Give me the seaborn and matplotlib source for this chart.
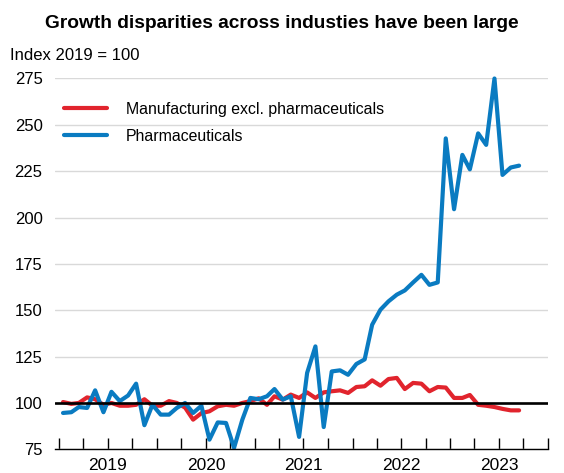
import matplotlib
matplotlib.use("Agg")
import matplotlib.pyplot as plt
import matplotlib.dates as mdates
import seaborn as sns
import pandas as pd

sns.set_theme(style="white")
plt.rcParams['font.family'] = ['Liberation Sans', 'DejaVu Sans']
plt.rcParams['text.color'] = 'black'
plt.rcParams['xtick.color'] = 'black'
plt.rcParams['ytick.color'] = 'black'

# monthly index values, Jan 2019 - Sep 2023
months = pd.date_range("2019-01-01", periods=57, freq="MS") + pd.Timedelta(days=14)
manufacturing = [100.5, 99.5, 100, 103, 102, 99, 100, 98.5, 98.5, 99, 102, 98.5,
                 98.5, 101, 100, 97.5, 91, 94.5, 95.5, 98.2, 99, 98.5, 100, 101,
                 102.5, 99, 103.6, 101.8, 104.5, 102.7, 105.7, 102.7, 105.7, 106.3, 106.8, 105.4,
                 108.6, 109, 112.2, 109.3, 112.9, 113.5, 107.5, 110.8, 110.4, 106.3, 108.6, 108.3,
                 102.7, 102.7, 104.3, 99, 98.5, 97.8, 96.8, 96, 96]
pharma = [94.6, 95, 97.8, 97.3, 106.8, 95, 106, 101, 104, 110.4, 88, 99,
          93.7, 93.7, 97.3, 100, 94.6, 98.5, 80.2, 89.5, 89.2, 75.8, 91, 102.7,
          102, 103.6, 107.5, 101.8, 103.6, 81.7, 116.2, 130.5, 87, 117, 117.6, 115.2,
          121, 123.5, 142.2, 150.3, 154.8, 158.4, 160.7, 165, 169.1, 163.7, 165, 242.7,
          204.5, 233.8, 226, 245.4, 239.2, 275, 223, 227, 228]
series_names = ["Manufacturing excl. pharmaceuticals", "Pharmaceuticals"]
colors = ["#e1242d", "#0a7bc1"]
year_labels = ["2019", "2020", "2021", "2022", "2023"]
y_ticks = [75, 100, 125, 150, 175, 200, 225, 250, 275]

df = pd.DataFrame({"date": list(months) * 2,
                   "value": manufacturing + pharma,
                   "series": [series_names[0]] * 57 + [series_names[1]] * 57})

fig = plt.figure(figsize=(5.64, 4.73), dpi=100)
ax = fig.add_axes([55 / 564, 1 - 449.3 / 473, (548 - 55) / 564, (449.3 - 78.5) / 473])

sns.lineplot(data=df, x="date", y="value", hue="series", palette=colors,
             linewidth=3, ax=ax, clip_on=False)
ax.axhline(100, color="black", lw=1.9, zorder=5)

ax.set_ylim(75, 275)
ax.set_xlim(pd.Timestamp("2018-12-16"), pd.Timestamp("2024-01-01"))
ax.set_yticks(y_ticks)
ax.yaxis.grid(True, color="#d9d9d9", lw=1)
ax.set_axisbelow(True)

ax.xaxis.set_major_locator(mdates.MonthLocator(bymonth=[1, 4, 7, 10]))
ax.xaxis.set_major_formatter(plt.NullFormatter())
ax.set_xticks([pd.Timestamp(f"{y}-07-02") for y in year_labels], minor=True)
ax.set_xticklabels(year_labels, minor=True)
ax.tick_params(axis="x", which="major", direction="in", length=8, width=1, bottom=True)
ax.tick_params(axis="x", which="minor", length=0, pad=6, labelsize=12.5)
ax.tick_params(axis="y", length=0, pad=9, labelsize=12)

for s in ["left", "right", "top"]:
    ax.spines[s].set_visible(False)
ax.spines["bottom"].set_color("black")
ax.spines["bottom"].set_linewidth(1)
ax.set_xlabel("")
ax.set_ylabel("")

ax.legend(loc="upper left", bbox_to_anchor=(-0.01, 0.975), frameon=False, fontsize=11.4,
          handlelength=2.7, handletextpad=1.2, labelspacing=0.75)

fig.text(0.5, 1 - 23 / 473, "Growth disparities across industies have been large",
         fontsize=13.75, fontweight="bold", va="center", ha="center")
fig.text(10 / 564, 1 - 55 / 473, "Index 2019 = 100", fontsize=12, va="center", ha="left")

plt.savefig("out.png", dpi=100)
